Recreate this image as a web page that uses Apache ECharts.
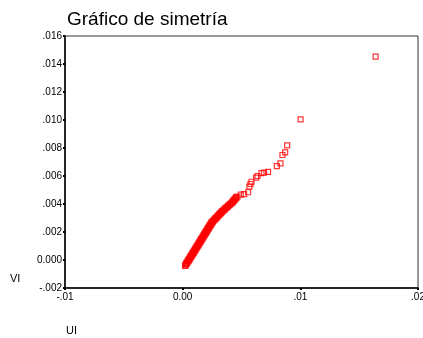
<!DOCTYPE html>
<html>
<head>
<meta charset="utf-8">
<script src="https://cdn.jsdelivr.net/npm/echarts@6/dist/echarts.min.js"></script>
<style>
  html, body { margin: 0; padding: 0; background: #fff; }
  #chart { width: 423px; height: 338px; }
</style>
</head>
<body>
<div id="chart"></div>
<script>
// Symmetry plot: distance below the median (UI) against distance above it (VI)
const chartTitle = 'Gráfico de simetría';
const xName = 'UI';
const yName = 'VI';

const xTicks = [-0.01, 0.00, 0.01, 0.02];
const yTicks = [-0.002, 0.000, 0.002, 0.004, 0.006, 0.008, 0.010, 0.012, 0.014, 0.016];

// Lower-half distances
const uiValues = [
  0.00020, 0.00026, 0.00027, 0.00034, 0.00032, 0.00040, 0.00040, 0.00050,
  0.00046, 0.00058, 0.00053, 0.00065, 0.00061, 0.00073, 0.00068, 0.00080,
  0.00076, 0.00088, 0.00083, 0.00095, 0.00090, 0.00102, 0.00098, 0.00110,
  0.00105, 0.00117, 0.00112, 0.00124, 0.00120, 0.00132, 0.00127, 0.00139,
  0.00134, 0.00146, 0.00142, 0.00154, 0.00149, 0.00161, 0.00156, 0.00168,
  0.00164, 0.00176, 0.00171, 0.00183, 0.00178, 0.00190, 0.00186, 0.00198,
  0.00193, 0.00205, 0.00200, 0.00212, 0.00208, 0.00220, 0.00215, 0.00227,
  0.00222, 0.00234, 0.00230, 0.00242, 0.00237, 0.00249, 0.00244, 0.00256,
  0.00255, 0.00267, 0.00267, 0.00279, 0.00278, 0.00290, 0.00289, 0.00301,
  0.00300, 0.00312, 0.00312, 0.00324, 0.00323, 0.00335, 0.00334, 0.00346,
  0.00347, 0.00359, 0.00361, 0.00373, 0.00374, 0.00386, 0.00387, 0.00399,
  0.00401, 0.00413, 0.00414, 0.00426, 0.00424, 0.00436, 0.00434, 0.00446,
  0.00444, 0.00456, 0.00454, 0.00466,
  0.00494, 0.00522, 0.00556, 0.00567, 0.00576, 0.00585, 0.00624, 0.00636,
  0.00670, 0.00692, 0.00726, 0.00800, 0.00831, 0.00848, 0.00871, 0.00888,
  0.01002, 0.01640
];

// Upper-half distances
const viValues = [
  -0.00042, -0.00038, -0.00030, -0.00028, -0.00021, -0.00018, -0.00011, -0.00008,
  -0.00001,  0.00002,  0.00009,  0.00012,  0.00019,  0.00022,  0.00029,  0.00032,
   0.00039,  0.00042,  0.00049,  0.00052,  0.00059,  0.00062,  0.00069,  0.00072,
   0.00079,  0.00082,  0.00089,  0.00092,  0.00099,  0.00102,  0.00109,  0.00112,
   0.00119,  0.00122,  0.00129,  0.00132,  0.00139,  0.00142,  0.00149,  0.00152,
   0.00159,  0.00162,  0.00169,  0.00172,  0.00179,  0.00182,  0.00189,  0.00192,
   0.00199,  0.00202,  0.00209,  0.00212,  0.00219,  0.00222,  0.00229,  0.00232,
   0.00239,  0.00242,  0.00249,  0.00252,  0.00259,  0.00262,  0.00269,  0.00272,
   0.00279,  0.00282,  0.00289,  0.00292,  0.00299,  0.00302,  0.00309,  0.00312,
   0.00319,  0.00322,  0.00329,  0.00332,  0.00339,  0.00342,  0.00349,  0.00352,
   0.00359,  0.00362,  0.00369,  0.00372,  0.00379,  0.00382,  0.00389,  0.00392,
   0.00399,  0.00402,  0.00409,  0.00412,  0.00419,  0.00422,  0.00429,  0.00432,
   0.00439,  0.00442,  0.00449,  0.00452,
   0.00467,  0.00471,  0.00484,  0.00524,  0.00543,  0.00559,  0.00588,  0.00600,
   0.00620,  0.00624,  0.00630,  0.00670,  0.00690,  0.00750,  0.00769,  0.00819,
   0.01005,  0.01452
];

const points = uiValues.map((u, i) => [u, viValues[i]]);

function fmtTick(v, digits) {
  if (Math.abs(v) < 1e-12) return '0.' + '0'.repeat(digits);
  const s = Math.abs(v).toFixed(digits).replace(/^0/, '');
  return (v < 0 ? '-' : '') + s;
}

const FONT = '"Liberation Sans", Arial, sans-serif';
const chart = echarts.init(document.getElementById('chart'), null, { renderer: 'canvas' });

chart.setOption({
  animation: false,
  backgroundColor: '#fff',
  title: {
    text: chartTitle,
    left: 62,
    top: 5,
    textStyle: { fontFamily: FONT, fontSize: 19, fontWeight: 'normal', color: '#000' }
  },
  grid: {
    left: 65, right: 5, top: 36, bottom: 50,
    containLabel: false,
    outerBoundsMode: 'none',
    show: true, borderColor: '#333', borderWidth: 1, backgroundColor: '#fff'
  },
  xAxis: {
    type: 'value',
    min: xTicks[0], max: xTicks[xTicks.length - 1], interval: 0.01,
    splitLine: { show: false },
    axisLine: { show: true, onZero: false, lineStyle: { color: '#000', width: 1.5 } },
    axisTick: { show: true, length: 2, lineStyle: { color: '#000', width: 2 } },
    axisLabel: {
      margin: 4, color: '#000', fontFamily: FONT, fontSize: 10,
      showMinLabel: true, showMaxLabel: true,
      alignMinLabel: 'center', alignMaxLabel: 'center',
      hideOverlap: false,
      formatter: v => fmtTick(v, 2)
    }
  },
  yAxis: {
    type: 'value',
    min: yTicks[0], max: yTicks[yTicks.length - 1], interval: 0.002,
    splitLine: { show: false },
    axisLine: { show: true, onZero: false, lineStyle: { color: '#000', width: 1.5 } },
    axisTick: { show: true, length: 2, lineStyle: { color: '#000', width: 2 } },
    axisLabel: {
      margin: 3, color: '#000', fontFamily: FONT, fontSize: 10,
      showMinLabel: true, showMaxLabel: true,
      formatter: v => fmtTick(v, 3)
    }
  },
  graphic: [
    { type: 'text', left: 10, top: 273,
      style: { text: yName, fill: '#000', font: '11px ' + FONT } },
    { type: 'text', left: 66, top: 325,
      style: { text: xName, fill: '#000', font: '11px ' + FONT } }
  ],
  series: [{
    type: 'scatter',
    data: points,
    symbol: 'rect',
    symbolSize: 5,
    itemStyle: { color: 'rgba(255,255,255,0)', borderColor: '#ff0000', borderWidth: 1.2 },
    emphasis: { disabled: true }
  }]
});
</script>
</body>
</html>
